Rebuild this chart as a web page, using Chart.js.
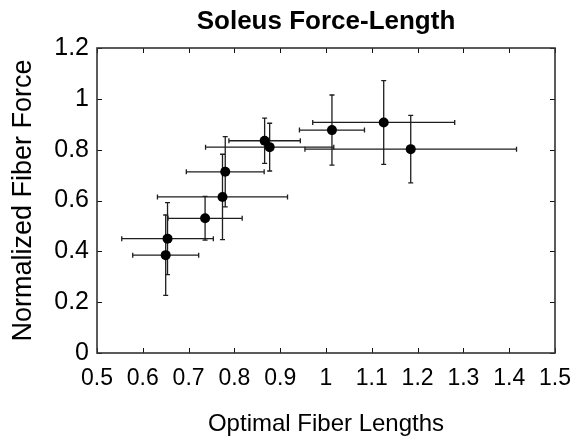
<!DOCTYPE html>
<html>
<head>
<meta charset="utf-8">
<script src="https://cdn.jsdelivr.net/npm/chart.js@4.4.0/dist/chart.umd.min.js"></script>
<style>
  html, body { margin: 0; padding: 0; background: #fff; }
  #wrap { width: 574px; height: 441px; }
</style>
</head>
<body>
<div id="wrap"><canvas id="chart" width="574" height="441"></canvas></div>
<script>
// soleus force-length data
const fiberLength = [0.650, 0.654, 0.736, 0.774, 0.780, 0.866, 0.877, 1.013, 1.126, 1.185];
const fiberForce  = [0.385, 0.450, 0.530, 0.614, 0.713, 0.835, 0.810, 0.877, 0.907, 0.802];
const lengthErr   = [0.072, 0.100, 0.081, 0.142, 0.085, 0.078, 0.140, 0.071, 0.155, 0.231];
const forceErr    = [0.158, 0.142, 0.086, 0.168, 0.138, 0.089, 0.094, 0.138, 0.165, 0.133];

const xTicks = [0.5, 0.6, 0.7, 0.8, 0.9, 1.0, 1.1, 1.2, 1.3, 1.4, 1.5];
const xTickLabels = ['0.5', '0.6', '0.7', '0.8', '0.9', '1', '1.1', '1.2', '1.3', '1.4', '1.5'];
const yTicks = [0, 0.2, 0.4, 0.6, 0.8, 1.0, 1.2];
const yTickLabels = ['0', '0.2', '0.4', '0.6', '0.8', '1', '1.2'];

const FONT = 'Liberation Sans, Arial, Helvetica, sans-serif';

let points = [];
for (let i = 0; i < fiberLength.length; i++) {
    points.push({x: fiberLength[i], y: fiberForce[i]});
}

// error bars drawn under the points
const errorBars = {
    id: 'errorBars',
    beforeDatasetsDraw(chart) {
        const ctx = chart.ctx;
        const xs = chart.scales.x, ys = chart.scales.y;
        const cap = 2.5;
        ctx.save();
        ctx.strokeStyle = '#1e1e1e';
        ctx.lineWidth = 1.3;
        for (let i = 0; i < fiberLength.length; i++) {
            const px = xs.getPixelForValue(fiberLength[i]);
            const py = ys.getPixelForValue(fiberForce[i]);
            const x0 = xs.getPixelForValue(fiberLength[i] - lengthErr[i]);
            const x1 = xs.getPixelForValue(fiberLength[i] + lengthErr[i]);
            const y0 = ys.getPixelForValue(fiberForce[i] - forceErr[i]);
            const y1 = ys.getPixelForValue(fiberForce[i] + forceErr[i]);
            ctx.beginPath();
            ctx.moveTo(x0, py); ctx.lineTo(x1, py);
            ctx.moveTo(x0, py - cap); ctx.lineTo(x0, py + cap);
            ctx.moveTo(x1, py - cap); ctx.lineTo(x1, py + cap);
            ctx.moveTo(px, y0); ctx.lineTo(px, y1);
            ctx.moveTo(px - cap, y0); ctx.lineTo(px + cap, y0);
            ctx.moveTo(px - cap, y1); ctx.lineTo(px + cap, y1);
            ctx.stroke();
        }
        ctx.restore();
    }
};

// box around the plot with inward ticks on every side
const frame = {
    id: 'frame',
    afterDatasetsDraw(chart) {
        const ctx = chart.ctx;
        const a = chart.chartArea;
        const xs = chart.scales.x, ys = chart.scales.y;
        const len = 5;
        ctx.save();
        ctx.strokeStyle = '#111';
        ctx.lineWidth = 1;
        ctx.beginPath();
        xTicks.forEach(v => {
            const p = Math.round(xs.getPixelForValue(v)) + 0.5;
            ctx.moveTo(p, a.bottom); ctx.lineTo(p, a.bottom - len);
            ctx.moveTo(p, a.top); ctx.lineTo(p, a.top + len);
        });
        yTicks.forEach(v => {
            const p = Math.round(ys.getPixelForValue(v)) + 0.5;
            ctx.moveTo(a.left, p); ctx.lineTo(a.left + len, p);
            ctx.moveTo(a.right, p); ctx.lineTo(a.right - len, p);
        });
        ctx.stroke();
        ctx.strokeStyle = '#333';
        ctx.lineWidth = 1.6;
        ctx.strokeRect(a.left, a.top, a.right - a.left, a.bottom - a.top);
        ctx.restore();
    }
};

new Chart(document.getElementById('chart'), {
    type: 'scatter',
    data: {
        datasets: [{
            data: points,
            backgroundColor: '#000',
            borderColor: '#000',
            pointRadius: 5,
            pointHoverRadius: 5,
            borderWidth: 0
        }]
    },
    options: {
        responsive: false,
        animation: false,
        events: [],
        layout: { padding: { left: 0, right: 19, top: 0, bottom: 0 } },
        plugins: {
            legend: { display: false },
            tooltip: { enabled: false }
        },
        scales: {
            // empty top axis, only used so the title sits centred over the plot
            top: {
                type: 'linear',
                position: 'top',
                min: 0.5,
                max: 1.5,
                afterFit: s => { s.height = 48; s.paddingLeft = 0; s.paddingRight = 0; },
                grid: { display: false, drawTicks: false },
                border: { display: false },
                ticks: { display: false },
                title: {
                    display: true,
                    text: 'Soleus Force-Length',
                    color: '#000',
                    font: { family: FONT, size: 26, weight: 'bold' },
                    padding: { top: 6, bottom: 0 }
                }
            },
            x: {
                type: 'linear',
                min: 0.5,
                max: 1.5,
                afterBuildTicks: s => { s.ticks = xTicks.map(v => ({value: v})); },
                afterFit: s => { s.height = 88; s.paddingLeft = 0; s.paddingRight = 0; },
                grid: { display: false, drawTicks: false },
                border: { display: false },
                ticks: {
                    color: '#000',
                    padding: 12,
                    maxRotation: 0,
                    autoSkip: false,
                    font: { family: FONT, size: 23 },
                    callback: (v, i) => xTickLabels[i]
                },
                title: {
                    display: true,
                    text: 'Optimal Fiber Lengths',
                    color: '#000',
                    font: { family: FONT, size: 24 },
                    padding: { top: 0, bottom: 2 }
                }
            },
            y: {
                type: 'linear',
                min: 0,
                max: 1.2,
                afterBuildTicks: s => { s.ticks = yTicks.map(v => ({value: v})); },
                afterFit: s => { s.width = 97; },
                grid: { display: false, drawTicks: false },
                border: { display: false },
                ticks: {
                    color: '#000',
                    padding: 8,
                    autoSkip: false,
                    font: { family: FONT, size: 25 },
                    callback: (v, i) => yTickLabels[i]
                },
                title: {
                    display: true,
                    text: 'Normalized Fiber Force',
                    color: '#000',
                    font: { family: FONT, size: 27 },
                    padding: { top: 7, bottom: 0 }
                }
            }
        }
    },
    plugins: [errorBars, frame]
});
</script>
</body>
</html>
